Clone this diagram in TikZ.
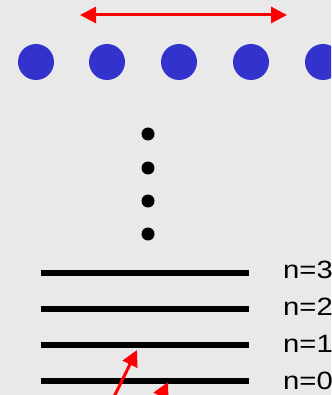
\documentclass[tikz,border=0pt]{standalone}
\usepackage{fontspec}
\setmainfont{Liberation Sans}
\usetikzlibrary{arrows.meta}
\definecolor{bg}{RGB}{233,233,233}
\definecolor{dotblue}{RGB}{51,51,204}
\definecolor{arrred}{RGB}{255,0,0}
\begin{document}
\begin{tikzpicture}[x=1pt,y=-1pt,
  bluedot/.style={circle,fill=dotblue,minimum size=36pt,inner sep=0pt},
  blackdot/.style={circle,fill=black,minimum size=13pt,inner sep=0pt},
  level/.style={line width=6pt,black},
  lbl/.style={anchor=base west,inner sep=0pt,font=\fontsize{25pt}{30pt}\selectfont},
  redarrow/.style={draw=arrred,line width=3pt,-{Triangle[length=16pt,width=16pt]}},
  redarrowtwo/.style={draw=arrred,line width=3pt,{Triangle[length=16pt,width=16pt]}-{Triangle[length=16pt,width=16pt]}}]
\useasboundingbox[fill=bg] (0,0) rectangle (331,395);
\clip (0,0) rectangle (331,395);
% top double arrow
\coordinate (tl) at (80,15);
\coordinate (tr) at (287,15);
\draw[redarrowtwo] (tl) -- (tr);
% blue dots
\foreach \i/\x in {1/36,2/107,3/179,4/251,5/323}
  \node[bluedot] (b\i) at (\x,62) {};
% black dots
\foreach \i/\y in {1/134,2/168,3/201,4/234}
  \node[blackdot] (k\i) at (148,\y) {};
% levels
\foreach \n/\y/\b in {3/273/278,2/309/315,1/345/352,0/381/389}{
  \coordinate (L\n a) at (41,\y);
  \coordinate (L\n b) at (249,\y);
  \draw[level] (L\n a) -- (L\n b);
  \node[lbl] (t\n) at (283,\b) {\scalebox{1.17}[1]{n=\n}};
}
% bottom arrows
\coordinate (s1) at (110,405);
\coordinate (e1) at (137,350);
\draw[redarrow] (s1) -- (e1);
\coordinate (s2) at (141,437);
\coordinate (e2) at (168,382);
\draw[redarrow] (s2) -- (e2);
\end{tikzpicture}
\end{document}
